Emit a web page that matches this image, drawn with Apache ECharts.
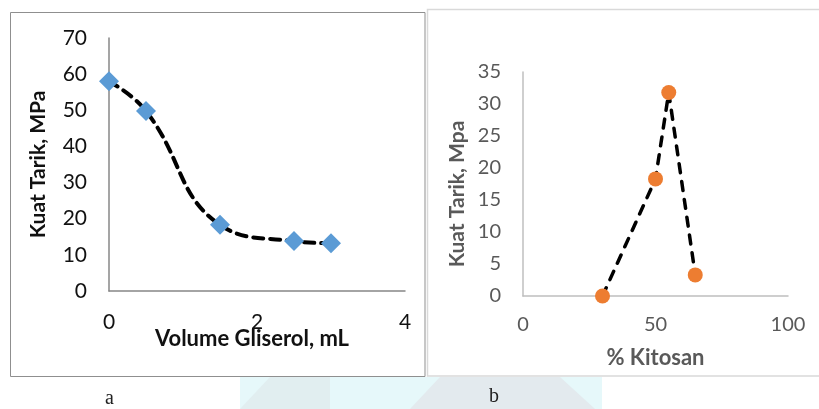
<!DOCTYPE html>
<html><head><meta charset="utf-8">
<script src="https://cdn.jsdelivr.net/npm/echarts@6/dist/echarts.min.js"></script>
<style>html,body{margin:0;padding:0;background:#fff}#c{width:819px;height:409px}</style>
</head><body><div id="c"></div>
<script>
// Chart a: Volume Gliserol vs Kuat Tarik
const gliserolX = [0, 0.5, 1.5, 2.5, 3];
const kuatTarikA = [58, 49.8, 18.3, 13.8, 13.2];
const yTicksA = [0, 10, 20, 30, 40, 50, 60, 70];
const xTicksA = [0, 2, 4];
// Chart b: % Kitosan vs Kuat Tarik
const kitosanX = [30, 50, 55, 65];
const kuatTarikB = [0, 18.3, 31.8, 3.3];
const yTicksB = [0, 5, 10, 15, 20, 25, 30, 35];
const xTicksB = [0, 50, 100];

const pairs = (xs, ys) => xs.map((x, i) => [x, ys[i]]);
const font = 'Lato, "Open Sans", sans-serif';

const chart = echarts.init(document.getElementById('c'), null, {renderer: 'canvas'});
chart.setOption({
  backgroundColor: '#fff',
  animation: false,
  graphic: [
    {type: 'rect', z: -10, shape: {x: 240, y: 377, width: 362, height: 32}, style: {fill: '#e6f8fa'}},
    {type: 'polygon', z: -9, shape: {points: [[240,409],[270,377],[330,377],[330,409]]}, style: {fill: '#e1eef0'}},
    {type: 'polygon', z: -9, shape: {points: [[410,409],[440,377],[560,377],[595,409]]}, style: {fill: '#e3eaee'}},
    {type: 'rect', z: 1, shape: {x: 10.5, y: 12.5, width: 414.5, height: 364}, style: {fill: 'none', stroke: '#8f8f8f', lineWidth: 1}},
    {type: 'rect', z: 1, shape: {x: 427.5, y: 9.5, width: 400, height: 366.5}, style: {fill: 'none', stroke: '#d9d9d9', lineWidth: 1.5}},
    {type: 'text', left: 105, top: 389, style: {text: 'a', font: '20px "Liberation Serif", serif', fill: '#222'}},
    {type: 'text', left: 489, top: 387, style: {text: 'b', font: '20px "Liberation Serif", serif', fill: '#222'}}
  ],
  grid: [
    {left: 109, top: 38, width: 296, height: 253},
    {left: 523, top: 72, width: 265, height: 224}
  ],
  xAxis: [
    {gridIndex: 0, type: 'value', min: xTicksA[0], max: xTicksA[xTicksA.length-1], interval: 2,
     splitLine: {show: false}, axisTick: {show: false},
     axisLine: {lineStyle: {color: '#878787', width: 1.5}},
     axisLabel: {color: '#111', fontSize: 21, fontFamily: font, margin: 21},
     name: 'Volume Gliserol, mL', nameLocation: 'middle', nameGap: 37, nameMoveOverlap: false,
     nameTextStyle: {color: '#111', fontSize: 22, fontWeight: 'bold', fontFamily: font, padding: [0, 10, 0, 0]}},
    {gridIndex: 1, type: 'value', min: xTicksB[0], max: xTicksB[xTicksB.length-1], interval: 50,
     splitLine: {show: false}, axisTick: {show: false},
     axisLine: {lineStyle: {color: '#bfbfbf', width: 1.5}},
     axisLabel: {color: '#595959', fontSize: 20, fontFamily: font, margin: 19},
     name: '% Kitosan', nameLocation: 'middle', nameGap: 51, nameMoveOverlap: false,
     nameTextStyle: {color: '#595959', fontSize: 22, fontWeight: 'bold', fontFamily: font}}
  ],
  yAxis: [
    {gridIndex: 0, type: 'value', min: yTicksA[0], max: yTicksA[yTicksA.length-1], interval: 10,
     splitLine: {show: false}, axisTick: {show: false},
     axisLine: {show: true, lineStyle: {color: '#878787', width: 1.5}},
     axisLabel: {color: '#111', fontSize: 21, fontFamily: font, margin: 22},
     name: 'Kuat Tarik, MPa', nameLocation: 'middle', nameGap: 60,
     nameTextStyle: {color: '#111', fontSize: 21, fontWeight: 'bold', fontFamily: font}},
    {gridIndex: 1, type: 'value', min: yTicksB[0], max: yTicksB[yTicksB.length-1], interval: 5,
     splitLine: {show: false}, axisTick: {show: false},
     axisLine: {show: true, lineStyle: {color: '#bfbfbf', width: 1.5}},
     axisLabel: {color: '#595959', fontSize: 20, fontFamily: font, margin: 22},
     name: 'Kuat Tarik, Mpa', nameLocation: 'middle', nameGap: 55,
     nameTextStyle: {color: '#595959', fontSize: 21, fontWeight: 'bold', fontFamily: font, padding: [0, 20, 0, 0]}}
  ],
  series: [
    {type: 'line', xAxisIndex: 0, yAxisIndex: 0, data: pairs(gliserolX, kuatTarikA), smooth: 0.45,
     symbol: 'diamond', symbolSize: 20, itemStyle: {color: '#5b9bd5'},
     lineStyle: {color: '#000', width: 4, type: [10, 7], cap: 'round'}},
    {type: 'line', xAxisIndex: 1, yAxisIndex: 1, data: pairs(kitosanX, kuatTarikB),
     symbol: 'circle', symbolSize: 15, itemStyle: {color: '#ed7d31'},
     lineStyle: {color: '#000', width: 3.5, type: [9, 9], cap: 'round'}}
  ]
});
</script></body></html>
